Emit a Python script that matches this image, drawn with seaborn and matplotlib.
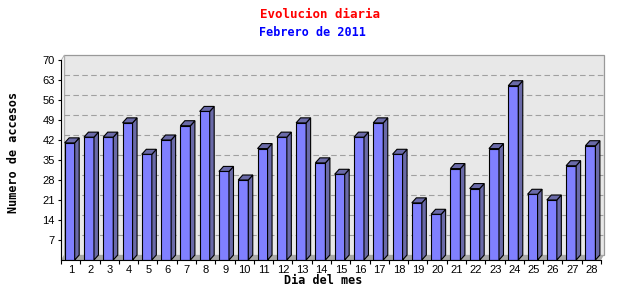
import numpy as np
import pandas as pd
import matplotlib
matplotlib.use("Agg")
import matplotlib.pyplot as plt
import seaborn as sns
from matplotlib.patches import Polygon, Rectangle

# ---- data ----
days = [str(d) for d in range(1, 29)]
accesses = [41, 43, 43, 48, 37, 42, 47, 52, 31, 28, 39, 43, 48, 34,
            30, 43, 48, 37, 20, 16, 32, 25, 39, 61, 23, 21, 33, 40]
y_ticks = list(range(7, 71, 7))

title = "Evolucion diaria"
subtitle = "Febrero de 2011"
xlabel = "Dia del mes"
ylabel = "Numero de accesos"

sns.set_theme(style="white")
plt.rcParams["font.family"] = ["Liberation Sans", "DejaVu Sans"]

W, H = 640, 300
fig = plt.figure(figsize=(6.4, 3.0), dpi=100)
fig.patch.set_facecolor("white")
L, R, T, B = 61, 605, 55, 260
ax = fig.add_axes([L / W, (H - B) / H, (R - L) / W, (B - T) / H])
ax.set_facecolor("white")

df = pd.DataFrame({"day": days, "n": accesses})
sns.barplot(data=df, x="day", y="n", order=days, color="#8080ff", saturation=1,
            width=0.52, edgecolor="black", linewidth=0.8, ax=ax, zorder=3)

xmin, xmax = -0.43, 27.757
ymin, ymax = 0, 71.75
xend = 27.55
ax.set_xlim(xmin, xmax)
ax.set_ylim(ymin, ymax)

sx = (R - L) / (xmax - xmin)   # px per data unit
sy = (B - T) / (ymax - ymin)

# 3D bar faces
bx, by = 4.5 / sx, 5.0 / sy
side_c = "#6a6aa8"
for p in list(ax.patches):
    x0, w, h = p.get_x(), p.get_width(), p.get_height()
    side = Polygon([(x0 + w, 0), (x0 + w + bx, by), (x0 + w + bx, h + by), (x0 + w, h)],
                   closed=True, fc=side_c, ec="black", lw=0.8, zorder=3)
    top = Polygon([(x0, h), (x0 + bx, h + by), (x0 + w + bx, h + by), (x0 + w, h)],
                  closed=True, fc=side_c, ec="black", lw=0.8, zorder=3)
    ax.add_patch(side)
    ax.add_patch(top)

# walls
wx, wy = 3.0 / sx, 5.0 / sy
panel = Rectangle((xmin + wx, wy), (xend + wx) - (xmin + wx), ymax - wy,
                  fc="#e8e8e8", ec="#999999", lw=0.9, zorder=0.5, clip_on=False)
ax.add_patch(panel)
floor = Polygon([(xmin, 0), (xend, 0), (xend + wx, wy), (xmin + wx, wy)],
                closed=True, fc="#a8a8a8", ec="none", zorder=0.6)
ax.add_patch(floor)
sidewall = Polygon([(xmin, 0), (xmin, 70), (xmin + wx, 70 + wy), (xmin + wx, wy)],
                   closed=True, fc="#f2f2f2", ec="#aaaaaa", lw=0.6, zorder=0.6, clip_on=False)
ax.add_patch(sidewall)
for v in y_ticks[:-1]:
    ax.plot([xmin + wx, xend + wx], [v + wy, v + wy], color="#a0a0a0",
            ls=(0, (5, 3)), lw=0.8, zorder=0.7)

# spines
for s in ["top", "right"]:
    ax.spines[s].set_visible(False)
ax.spines["left"].set_bounds(0, 70)
ax.spines["bottom"].set_bounds(xmin, xend)
for s in ["left", "bottom"]:
    ax.spines[s].set_color("black")
    ax.spines[s].set_linewidth(0.8)
    ax.spines[s].set_zorder(4)

# ticks
ax.set_yticks(y_ticks)
ax.set_yticklabels([str(v) for v in y_ticks])
ax.set_xticks(np.arange(len(days)) + 0.07, labels=days)
ax.set_xticks(np.arange(len(days) + 1) - 0.45, minor=True)
ax.tick_params(axis="y", left=True, length=2.5, width=0.8, color="black",
               labelsize=8, pad=2, labelcolor="black")
ax.tick_params(axis="x", which="major", bottom=True, length=0, labelsize=8, pad=3.5,
               labelcolor="black")
ax.tick_params(axis="x", which="minor", bottom=True, length=3, width=0.8, color="black")
ax.set_xlabel("")
ax.set_ylabel("")

mono = ["DejaVu Sans Mono"]
fig.text(320 / W, 1 - 14 / H, title, color="red", fontsize=9, fontweight="bold",
         family=mono, ha="center", va="center")
fig.text(312 / W, 1 - 32 / H, subtitle, color="blue", fontsize=8.5, fontweight="bold",
         family=mono, ha="center", va="center")
fig.text(323 / W, 1 - 281 / H, xlabel, color="black", fontsize=8.5, fontweight="bold",
         family=mono, ha="center", va="center")
fig.text(14 / W, 1 - 152 / H, ylabel, color="black", fontsize=8.5, fontweight="bold",
         family=mono, ha="center", va="center", rotation=90)

fig.savefig("out.png", dpi=100, facecolor="white")
